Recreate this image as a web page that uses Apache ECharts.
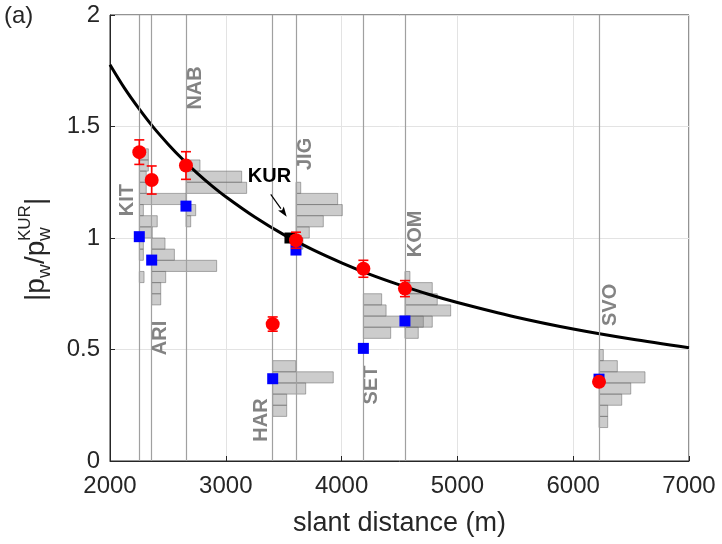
<!DOCTYPE html>
<html>
<head>
<meta charset="utf-8">
<script src="https://cdn.jsdelivr.net/npm/echarts@6/dist/echarts.min.js"></script>
<style>
html, body { margin: 0; padding: 0; background: #fff; }
#main { width: 722px; height: 544px; }
</style>
</head>
<body>
<div id="main"></div>
<script>
// stations
var stationNames = ['KIT', 'ARI', 'NAB', 'HAR', 'JIG', 'SET', 'KOM', 'SVO'];
var stationDist = [2253, 2360, 2656, 3405, 3606, 4188, 4547, 6223];
// red: mean ratio with error bar
var meanRatio = [1.385, 1.260, 1.325, 0.614, 0.990, 0.862, 0.773, 0.355];
var errRatio = [0.055, 0.063, 0.062, 0.032, 0.036, 0.038, 0.036, 0.015];
// blue squares
var blueRatio = [1.006, 0.901, 1.143, 0.369, 0.946, 0.505, 0.628, 0.367];
// reference station
var kurDist = 3554;
var kurRatio = 1.0;
// model curve
var curveDist = [2000, 2125, 2250, 2375, 2500, 2625, 2750, 2875, 3000, 3250, 3500, 3750, 4000, 4250, 4500, 4750, 5000, 5500, 6000, 6500, 7000];
var curveRatio = [1.777, 1.672, 1.580, 1.496, 1.422, 1.354, 1.292, 1.236, 1.185, 1.094, 1.015, 0.948, 0.889, 0.836, 0.790, 0.748, 0.711, 0.646, 0.592, 0.547, 0.508];

// histograms: bin width 0.05, first bin lower edge, bar lengths (in metres of x axis), bottom to top
var histBin = 0.05;
var histStart = [0.80, 0.70, 1.05, 0.20, 0.95, 0.55, 0.55, 0.15];
var histKIT = [41, 0, 35, 35, 112, 155, 35, 403, 60, 60, 78, 78];
var histARI = [78, 78, 121, 561, 196, 115];
var histNAB = [41, 84, 0, 524, 481, 121];
var histHAR = [121, 121, 285, 523, 199];
var histJIG = [60, 115, 236, 400, 360, 41];
var histSET = [236, 518, 196, 158];
var histKOM = [115, 236, 395, 279, 236, 43];
var histSVO = [75, 75, 196, 274, 397, 158, 37];
var histAll = [histKIT, histARI, histNAB, histHAR, histJIG, histSET, histKOM, histSVO];

// label anchors (data coords)
var labelDist = [2147, 2440, 2734, 3304, 3692, 4262, 4642, 6318];
var labelRatio = [1.170, 0.552, 1.673, 0.184, 1.377, 0.341, 1.018, 0.700];

var chart = echarts.init(document.getElementById('main'), null, { renderer: 'canvas' });

var histData = [];
for (var i = 0; i < histAll.length; i++) {
	for (var j = 0; j < histAll[i].length; j++) {
		if (histAll[i][j] > 0) {
			var lo = histStart[i] + j * histBin;
			histData.push([stationDist[i], lo, lo + histBin, histAll[i][j]]);
		}
	}
}

var redData = [], blueData = [], labelData = [];
for (var i = 0; i < stationNames.length; i++) {
	redData.push([stationDist[i], meanRatio[i], errRatio[i]]);
	blueData.push([stationDist[i], blueRatio[i]]);
	labelData.push([labelDist[i], labelRatio[i], stationNames[i]]);
}
var curveData = curveDist.map(function(d, k) { return [d, curveRatio[k]]; });

var font = '"Liberation Sans", Arial, Helvetica, sans-serif';

var option = {
	animation: false,
	backgroundColor: '#fff',
	grid: {
		left: 110, right: 33, top: 15, bottom: 83,
		show: true, borderColor: '#262626', borderWidth: 1
	},
	xAxis: {
		type: 'value', min: 2000, max: 7000, interval: 1000,
		name: 'slant distance (m)', nameLocation: 'middle', nameGap: 49,
		nameTextStyle: { fontSize: 27, color: '#262626', fontFamily: font },
		axisLine: { show: true, lineStyle: { color: '#262626', width: 1 } },
		axisTick: { show: true, inside: true, length: 5, lineStyle: { color: '#262626' } },
		axisLabel: { fontSize: 24, color: '#262626', fontFamily: font, margin: 13,
			formatter: function(v) { return String(v); } },
		splitLine: { show: true, lineStyle: { color: '#e3e3e3', width: 1 } }
	},
	yAxis: {
		type: 'value', min: 0, max: 2, interval: 0.5,
		axisLine: { show: true, lineStyle: { color: '#262626', width: 1 } },
		axisTick: { show: true, inside: true, length: 5, lineStyle: { color: '#262626' } },
		axisLabel: { fontSize: 24, color: '#262626', fontFamily: font, margin: 10 },
		splitLine: { show: true, lineStyle: { color: '#e3e3e3', width: 1 } }
	},
	graphic: [{
		type: 'text', left: 4, top: 4,
		style: { text: '(a)', fontSize: 24, fill: '#262626', font: '24px ' + font }
	}, {
		type: 'group', x: 36, y: 243, rotation: Math.PI / 2,
		children: [
			{ type: 'text', x: -58, y: 0, style: { text: '|p', font: '28px ' + font, fill: '#262626', verticalAlign: 'middle', align: 'left' } },
			{ type: 'text', x: -35, y: 9, style: { text: 'w', font: '19px ' + font, fill: '#262626', verticalAlign: 'middle', align: 'left' } },
			{ type: 'text', x: -21, y: 0, style: { text: '/p', font: '28px ' + font, fill: '#262626', verticalAlign: 'middle', align: 'left' } },
			{ type: 'text', x: 2, y: 9, style: { text: 'w', font: '19px ' + font, fill: '#262626', verticalAlign: 'middle', align: 'left' } },
			{ type: 'text', x: 2, y: -11, style: { text: 'KUR', font: '17px ' + font, fill: '#262626', verticalAlign: 'middle', align: 'left' } },
			{ type: 'text', x: 38, y: 0, style: { text: '|', font: '28px ' + font, fill: '#262626', verticalAlign: 'middle', align: 'left' } }
		]
	}],
	series: [{
		// station vertical lines
		type: 'line', data: [], silent: true, z: 1,
		markLine: {
			silent: true, symbol: ['none', 'none'], label: { show: false },
			lineStyle: { color: '#a0a0a0', type: 'solid', width: 1.2 },
			data: stationDist.map(function(d) { return { xAxis: d }; })
		}
	}, {
		// histograms
		type: 'custom', z: 2, silent: true,
		data: histData,
		encode: { x: 0, y: 1 },
		renderItem: function(params, api) {
			var p1 = api.coord([api.value(0), api.value(2)]);
			var p2 = api.coord([api.value(0) + api.value(3), api.value(1)]);
			return {
				type: 'rect',
				shape: { x: p1[0], y: p1[1], width: p2[0] - p1[0], height: p2[1] - p1[1] },
				style: { fill: 'rgba(128,128,128,0.4)', stroke: 'rgba(110,110,110,0.55)', lineWidth: 1 }
			};
		}
	}, {
		// station labels
		type: 'custom', z: 3, silent: true,
		data: labelData,
		encode: { x: 0, y: 1 },
		renderItem: function(params, api) {
			var p = api.coord([api.value(0), api.value(1)]);
			return {
				type: 'text', x: p[0], y: p[1], rotation: Math.PI / 2,
				style: {
					text: labelData[params.dataIndex][2], fill: '#838383',
					font: 'bold 20px ' + font, align: 'center', verticalAlign: 'middle'
				}
			};
		}
	}, {
		// model curve
		type: 'line', z: 4, data: curveData, smooth: 0.3,
		showSymbol: false, symbol: 'none',
		lineStyle: { color: '#000', width: 3 }
	}, {
		// KUR annotation
		type: 'custom', z: 5, silent: true,
		data: [[3388, 1.196, 3526, 1.0955]],
		encode: { x: 0, y: 1 },
		renderItem: function(params, api) {
			var a = api.coord([api.value(0), api.value(1)]);
			var b = api.coord([api.value(2), api.value(3)]);
			var dx = b[0] - a[0], dy = b[1] - a[1];
			var L = Math.sqrt(dx * dx + dy * dy);
			var ux = dx / L, uy = dy / L;
			var hl = 10, hw = 3.5;
			var bx = b[0] - ux * hl, by = b[1] - uy * hl;
			var t = api.coord([3377, 1.276]);
			return {
				type: 'group',
				children: [
					{ type: 'line', shape: { x1: a[0], y1: a[1], x2: bx, y2: by }, style: { stroke: '#000', lineWidth: 1.2 } },
					{ type: 'polygon', shape: { points: [[b[0], b[1]], [bx - uy * hw, by + ux * hw], [bx + ux * 2, by + uy * 2], [bx + uy * hw, by - ux * hw]] }, style: { fill: '#000' } },
					{ type: 'text', x: t[0], y: t[1], style: { text: 'KUR', font: 'bold 20px ' + font, fill: '#000', align: 'center', verticalAlign: 'middle' } }
				]
			};
		}
	}, {
		type: 'scatter', z: 6, data: [[kurDist, kurRatio]],
		symbol: 'rect', symbolSize: 11, itemStyle: { color: '#000', opacity: 1 }
	}, {
		type: 'scatter', z: 7, data: blueData,
		symbol: 'rect', symbolSize: 11, itemStyle: { color: '#0000ff', opacity: 1 }
	}, {
		// error bars
		type: 'custom', z: 8, silent: true,
		data: redData,
		encode: { x: 0, y: 1 },
		renderItem: function(params, api) {
			var x = api.value(0), m = api.value(1), e = api.value(2);
			var top = api.coord([x, m + e]), bot = api.coord([x, m - e]);
			var hw = 5;
			var st = { stroke: '#ff0000', lineWidth: 1.6 };
			return {
				type: 'group',
				children: [
					{ type: 'line', shape: { x1: top[0], y1: top[1], x2: bot[0], y2: bot[1] }, style: st },
					{ type: 'line', shape: { x1: top[0] - hw, y1: top[1], x2: top[0] + hw, y2: top[1] }, style: st },
					{ type: 'line', shape: { x1: bot[0] - hw, y1: bot[1], x2: bot[0] + hw, y2: bot[1] }, style: st }
				]
			};
		}
	}, {
		type: 'scatter', z: 9, data: redData.map(function(r) { return [r[0], r[1]]; }),
		symbol: 'circle', symbolSize: 14, itemStyle: { color: '#ff0000', opacity: 1 }
	}]
};

chart.setOption(option);
</script>
</body>
</html>
